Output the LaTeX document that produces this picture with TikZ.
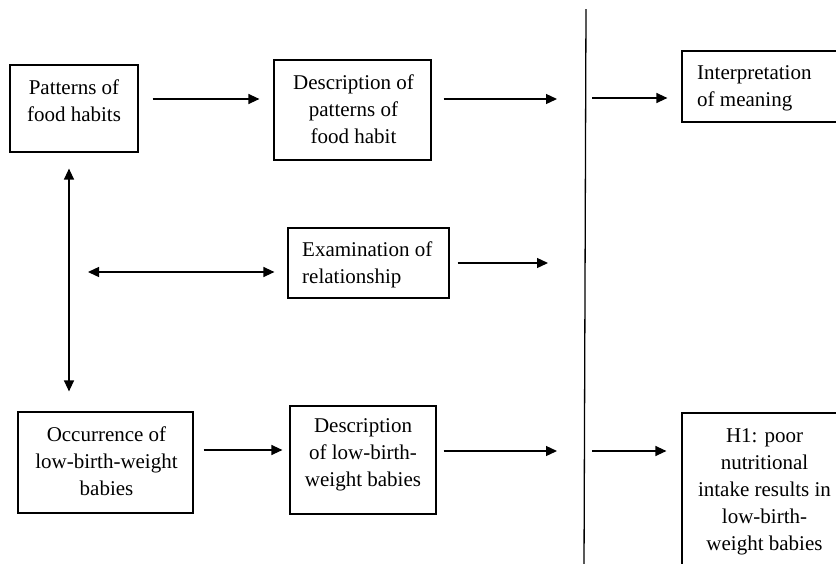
\documentclass[tikz,border=0pt]{standalone}
\usepackage{fontspec}
\setmainfont{Liberation Serif}
\usetikzlibrary{arrows.meta}
\begin{document}
\begin{tikzpicture}[x=1pt,y=-1pt,
  box/.style={draw, line width=1.2pt, inner sep=0pt},
  txt/.style={inner sep=0pt, font=\fontsize{21}{27}\selectfont},
  arr/.style={line width=1.3pt, -{Triangle[length=11pt,width=10pt]}},
  darr/.style={line width=1.3pt, {Triangle[length=11pt,width=10pt]}-{Triangle[length=11pt,width=10pt]}}]
\useasboundingbox (0,0) rectangle (836,563);
\clip (0,0) rectangle (836,563);
\fill[white] (0,0) rectangle (836,563);
% boxes (text anchors give the baseline of the last line)
\node[box, minimum width=128pt, minimum height=87pt] (b1) at (74,108.5) {};
\node[txt, align=center, anchor=base] (t1) at (74,121) {Patterns of\\food habits};
\node[box, minimum width=157pt, minimum height=100pt] (b2) at (352.5,110) {};
\node[txt, align=center, anchor=base] (t2) at (353.5,143) {Description of\\patterns of\\food habit};
\node[box, minimum width=170pt, minimum height=71pt] (b3) at (767,86.5) {};
\node[txt, align=left, anchor=base west] (t3) at (697,106) {Interpretation\\of meaning};
\node[box, minimum width=161pt, minimum height=70pt] (b4) at (368.5,263) {};
\node[txt, align=left, anchor=base west] (t4) at (302,283) {Examination of\\relationship};
\node[box, minimum width=175pt, minimum height=101pt] (b5) at (105.5,462.5) {};
\node[txt, align=center, anchor=base] (t5) at (106.5,495.5) {Occurrence of\\low-birth-weight\\babies};
\node[box, minimum width=146pt, minimum height=108pt] (b6) at (363,460) {};
\node[txt, align=center, anchor=base] (t6) at (363,486.5) {Description\\of low-birth-\\weight babies};
\node[box, minimum width=166pt, minimum height=200pt] (b7) at (765,513) {};
\node[txt, align=center, anchor=base] (t7) at (764.5,550) {H1: poor\\nutritional\\intake results in\\low-birth-\\weight babies};
% divider
\coordinate (lt) at (586,9);
\coordinate (lb) at (584,570);
\draw[line width=1.3pt] (lt) -- (lb);
% helper coordinates
\coordinate (r1) at (0,99);
\coordinate (e1) at (557,99);
\coordinate (s1) at (592,98);
\coordinate (h0) at (88,272);
\coordinate (e2) at (548,263);
\coordinate (r2) at (0,450);
\coordinate (e3) at (557,451);
\coordinate (s2) at (592,451);
\coordinate (vx) at (69,0);
% connectors
\draw[arr, shorten <=14pt, shorten >=14pt] (b1.east |- r1) -- (b2.west |- r1);
\draw[arr, shorten <=12pt] (b2.east |- e1) -- (e1);
\draw[arr, shorten >=14pt] (s1) -- (b3.west |- s1);
\draw[darr, shorten <=16pt, shorten >=20pt] (b1.south -| vx) -- (b5.north -| vx);
\draw[darr, shorten >=13pt] (h0) -- (b4.west |- h0);
\draw[arr, shorten <=8pt] (b4.east) -- (e2);
\draw[arr, shorten <=10pt, shorten >=7pt] (b5.east |- r2) -- (b6.west |- r2);
\draw[arr, shorten <=7pt] (b6.east |- e3) -- (e3);
\draw[arr, shorten >=15pt] (s2) -- (b7.west |- s2);
\end{tikzpicture}
\end{document}
